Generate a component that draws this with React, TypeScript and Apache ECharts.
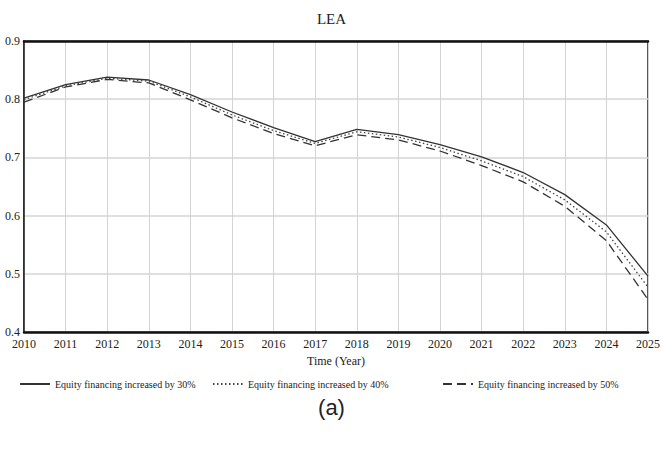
import React, { useEffect, useRef } from "react";
import * as echarts from "echarts";

const years = ["2010","2011","2012","2013","2014","2015","2016","2017","2018","2019","2020","2021","2022","2023","2024","2025"];
const s30 = [0.802, 0.825, 0.838, 0.833, 0.808, 0.778, 0.751, 0.727, 0.748, 0.739, 0.722, 0.701, 0.674, 0.636, 0.584, 0.496];
const s40 = [0.799, 0.823, 0.836, 0.831, 0.804, 0.773, 0.746, 0.724, 0.744, 0.735, 0.717, 0.694, 0.667, 0.627, 0.572, 0.477];
const s50 = [0.795, 0.821, 0.834, 0.828, 0.799, 0.768, 0.741, 0.720, 0.739, 0.730, 0.711, 0.686, 0.658, 0.616, 0.557, 0.456];
const names = ["Equity financing increased by 30%", "Equity financing increased by 40%", "Equity financing increased by 50%"];

const FONT = "Liberation Serif";

export default function App() {
  const ref = useRef<HTMLDivElement>(null);
  useEffect(() => {
    if (!ref.current) return;
    const chart = echarts.init(ref.current, null, { renderer: "svg" });
    const legendText = { fontFamily: FONT, fontSize: 10, color: "#222" };
    const legBase = { top: 374, itemWidth: 30, itemHeight: 10, itemGap: 10, textStyle: legendText, itemStyle: { opacity: 0 } };
    chart.setOption({
      animation: false,
      backgroundColor: "#fff",
      title: {
        text: "LEA",
        left: "center",
        top: 6,
        textStyle: { fontFamily: FONT, fontSize: 15, fontWeight: "normal", color: "#222" },
      },
      grid: {
        left: 24, right: 10, top: 41, bottom: 136,
        show: true, borderColor: "#222", borderWidth: 1.5,
      },
      legend: [
        { ...legBase, data: [names[0]], left: 14 },
        { ...legBase, data: [names[1]], left: 207 },
        { ...legBase, data: [names[2]], left: 437 },
      ],
      xAxis: [
        {
          type: "category",
          data: years,
          boundaryGap: false,
          name: "Time (Year)",
          nameLocation: "middle",
          nameGap: 22,
          nameTextStyle: { fontFamily: FONT, fontSize: 12, color: "#222" },
          axisLine: { lineStyle: { color: "#111", width: 2.5 } },
          axisTick: { show: false },
          axisLabel: { fontFamily: FONT, fontSize: 12, color: "#222", margin: 6, interval: 0 },
          splitLine: { show: true, lineStyle: { color: "#d4d4d4", width: 1 } },
        },
        {
          type: "category",
          data: years,
          boundaryGap: false,
          position: "top",
          axisLine: { show: true, lineStyle: { color: "#111", width: 2.5 } },
          axisTick: { show: false },
          axisLabel: { show: false },
          splitLine: { show: false },
        },
      ],
      yAxis: {
        type: "value",
        min: 0.4, max: 0.9, interval: 0.1,
        axisLine: { show: true, lineStyle: { color: "#222", width: 1.5 } },
        axisTick: { show: false },
        axisLabel: { fontFamily: FONT, fontSize: 12, color: "#222", margin: 4, formatter: (v: number) => v.toFixed(1) },
        splitLine: { show: true, lineStyle: { color: "#d4d4d4", width: 1.5 } },
      },
      series: [
        { name: names[0], type: "line", data: s30, symbol: "none", lineStyle: { color: "#333", width: 1.3, type: "solid" }, itemStyle: { color: "#333" } },
        { name: names[1], type: "line", data: s40, symbol: "none", lineStyle: { color: "#444", width: 1.3, type: [1.5, 2.5] }, itemStyle: { color: "#444" } },
        { name: names[2], type: "line", data: s50, symbol: "none", lineStyle: { color: "#333", width: 1.3, type: [9, 5] }, itemStyle: { color: "#333" } },
      ],
      graphic: [
        { type: "text", left: "center", top: 396, style: { text: "(a)", fontFamily: "Liberation Sans", fontSize: 22, fill: "#222" } },
      ],
    });
    return () => chart.dispose();
  }, []);
  return <div ref={ref} style={{ position: "fixed", left: 0, top: 0, width: 663, height: 468, background: "#fff" }} />;
}
